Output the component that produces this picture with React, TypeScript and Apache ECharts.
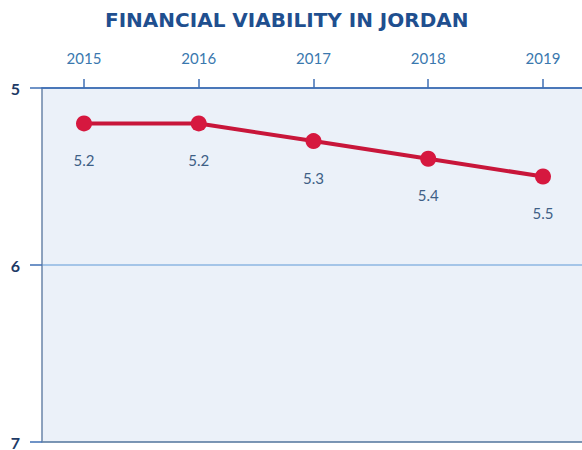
import React, { useEffect, useRef } from "react";
import * as echarts from "echarts";

const years = [2015, 2016, 2017, 2018, 2019];
const values = [5.2, 5.2, 5.3, 5.4, 5.5];
const yTicks = [5, 6, 7];
const title = "FINANCIAL VIABILITY IN JORDAN";

export default function App() {
  const ref = useRef<HTMLDivElement>(null);
  useEffect(() => {
    if (!ref.current) return;
    const chart = echarts.init(ref.current, null, { renderer: "svg" });
    chart.setOption({
      animation: false,
      backgroundColor: "#ffffff",
      title: {
        text: title,
        left: 100,
        top: 5,
        textStyle: {
          fontFamily: "DejaVu Sans",
          fontWeight: "bold",
          fontSize: 20,
          color: "#1f4f8f",
        },
      },
      grid: {
        left: 42,
        top: 88,
        right: 0,
        bottom: 7,
        show: true,
        backgroundColor: "#ebf1f9",
        borderWidth: 0,
      },
      xAxis: {
        type: "value",
        position: "top",
        min: 2014.634,
        max: 2019.34,
        axisLine: { show: true, lineStyle: { color: "#3f6fb5", width: 1.5 } },
        axisTick: {
          show: true,
          length: 9,
          customValues: years,
          lineStyle: { color: "#3f6fb5", width: 1.5 },
        },
        axisLabel: {
          customValues: years,
          margin: 23,
          fontFamily: "Lato",
          fontSize: 15,
          color: "#3a78ae",
          formatter: (v: number) => String(v),
        },
        splitLine: { show: false },
      },
      yAxis: {
        type: "value",
        inverse: true,
        min: 5,
        max: 7,
        interval: 1,
        axisLine: { show: true, lineStyle: { color: "#6a85a8", width: 1.5 } },
        axisTick: { show: true, length: 12, lineStyle: { color: "#3f6fb5", width: 1.5 } },
        axisLabel: {
          margin: 22,
          fontFamily: "Lato",
          fontWeight: "bold",
          fontSize: 16,
          color: "#1e3a66",
          formatter: (v: number) => (yTicks.includes(v) ? String(v) : ""),
        },
        splitLine: {
          show: true,
          lineStyle: { color: ["#3f6fb5", "#8db6e2", "#51739b"], width: 1.5 },
        },
      },
      series: [
        {
          type: "line",
          data: years.map((y, i) => [y, values[i]]),
          lineStyle: { color: "#c8163a", width: 4 },
          itemStyle: { color: "#d6183f" },
          symbol: "circle",
          symbolSize: 16,
          label: {
            show: true,
            position: "bottom",
            distance: 21,
            fontFamily: "Lato",
            fontSize: 15,
            color: "#3e5f86",
            formatter: (p: any) => p.value[1].toFixed(1),
          },
        },
      ],
    });
    return () => chart.dispose();
  }, []);
  return (
    <div
      ref={ref}
      style={{ position: "fixed", left: 0, top: 0, width: 582, height: 450 }}
    />
  );
}
